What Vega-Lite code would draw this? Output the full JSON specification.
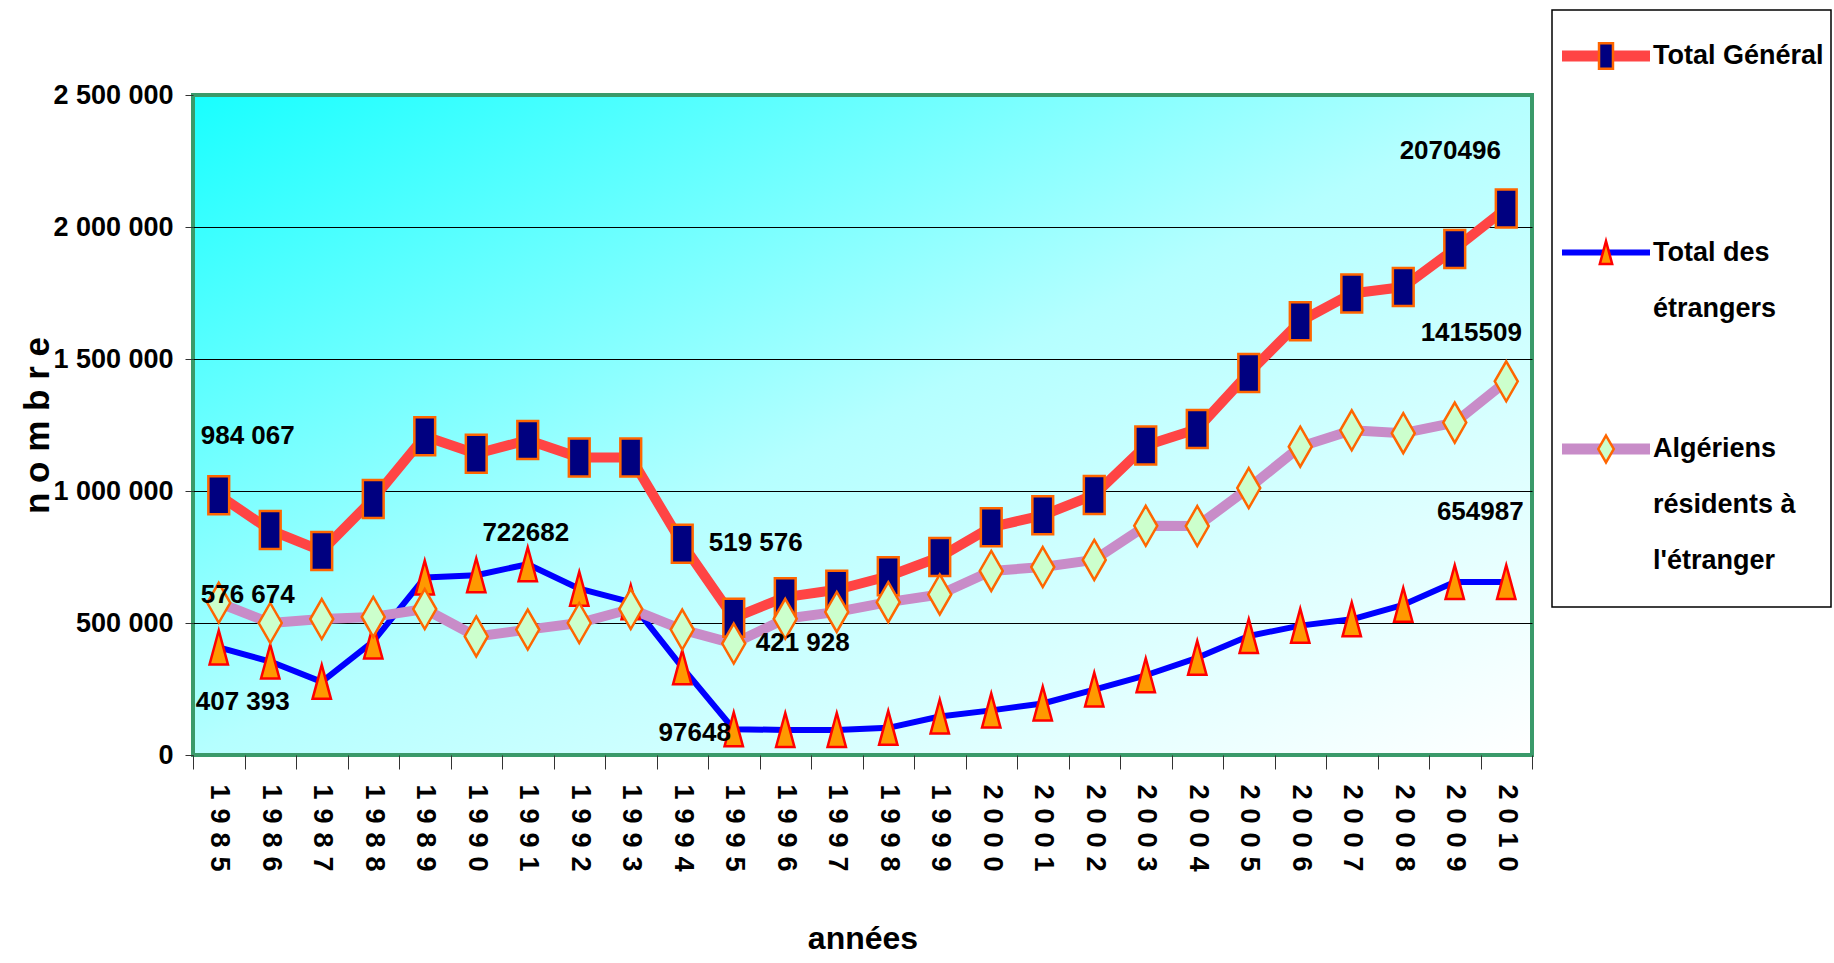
{
  "$schema": "https://vega.github.io/schema/vega-lite/v6.json",
  "background": "white",
  "padding": {"left": 18, "top": 9, "right": 0, "bottom": 0},
  "spacing": 16,
  "datasets": {
    "donnees": [
      {"annee": "1985", "serie": "Total Général", "valeur": 984067, "etiquette": "984 067"},
      {"annee": "1986", "serie": "Total Général", "valeur": 852000},
      {"annee": "1987", "serie": "Total Général", "valeur": 773000},
      {"annee": "1988", "serie": "Total Général", "valeur": 970000},
      {"annee": "1989", "serie": "Total Général", "valeur": 1207000},
      {"annee": "1990", "serie": "Total Général", "valeur": 1141000},
      {"annee": "1991", "serie": "Total Général", "valeur": 1193000},
      {"annee": "1992", "serie": "Total Général", "valeur": 1127000},
      {"annee": "1993", "serie": "Total Général", "valeur": 1127000},
      {"annee": "1994", "serie": "Total Général", "valeur": 800000},
      {"annee": "1995", "serie": "Total Général", "valeur": 519576, "etiquette": "519 576"},
      {"annee": "1996", "serie": "Total Général", "valeur": 598000},
      {"annee": "1997", "serie": "Total Général", "valeur": 626000},
      {"annee": "1998", "serie": "Total Général", "valeur": 677000},
      {"annee": "1999", "serie": "Total Général", "valeur": 750000},
      {"annee": "2000", "serie": "Total Général", "valeur": 863000},
      {"annee": "2001", "serie": "Total Général", "valeur": 908000},
      {"annee": "2002", "serie": "Total Général", "valeur": 985000},
      {"annee": "2003", "serie": "Total Général", "valeur": 1172000},
      {"annee": "2004", "serie": "Total Général", "valeur": 1235000},
      {"annee": "2005", "serie": "Total Général", "valeur": 1447000},
      {"annee": "2006", "serie": "Total Général", "valeur": 1643000},
      {"annee": "2007", "serie": "Total Général", "valeur": 1748000},
      {"annee": "2008", "serie": "Total Général", "valeur": 1773000},
      {"annee": "2009", "serie": "Total Général", "valeur": 1917000},
      {"annee": "2010", "serie": "Total Général", "valeur": 2070496, "etiquette": "2070496"},
      {"annee": "1985", "serie": "Total des étrangers", "valeur": 407393, "etiquette": "407 393"},
      {"annee": "1986", "serie": "Total des étrangers", "valeur": 354000},
      {"annee": "1987", "serie": "Total des étrangers", "valeur": 277000},
      {"annee": "1988", "serie": "Total des étrangers", "valeur": 430000},
      {"annee": "1989", "serie": "Total des étrangers", "valeur": 672000},
      {"annee": "1990", "serie": "Total des étrangers", "valeur": 681000},
      {"annee": "1991", "serie": "Total des étrangers", "valeur": 722682, "etiquette": "722682"},
      {"annee": "1992", "serie": "Total des étrangers", "valeur": 630000},
      {"annee": "1993", "serie": "Total des étrangers", "valeur": 579000},
      {"annee": "1994", "serie": "Total des étrangers", "valeur": 332000},
      {"annee": "1995", "serie": "Total des étrangers", "valeur": 97648, "etiquette": "97648"},
      {"annee": "1996", "serie": "Total des étrangers", "valeur": 95000},
      {"annee": "1997", "serie": "Total des étrangers", "valeur": 95000},
      {"annee": "1998", "serie": "Total des étrangers", "valeur": 103000},
      {"annee": "1999", "serie": "Total des étrangers", "valeur": 146000},
      {"annee": "2000", "serie": "Total des étrangers", "valeur": 169000},
      {"annee": "2001", "serie": "Total des étrangers", "valeur": 195000},
      {"annee": "2002", "serie": "Total des étrangers", "valeur": 248000},
      {"annee": "2003", "serie": "Total des étrangers", "valeur": 302000},
      {"annee": "2004", "serie": "Total des étrangers", "valeur": 368000},
      {"annee": "2005", "serie": "Total des étrangers", "valeur": 451000},
      {"annee": "2006", "serie": "Total des étrangers", "valeur": 490000},
      {"annee": "2007", "serie": "Total des étrangers", "valeur": 514000},
      {"annee": "2008", "serie": "Total des étrangers", "valeur": 569000},
      {"annee": "2009", "serie": "Total des étrangers", "valeur": 655000},
      {"annee": "2010", "serie": "Total des étrangers", "valeur": 654987, "etiquette": "654987"},
      {"annee": "1985", "serie": "Algériens résidents à l'étranger", "valeur": 576674, "etiquette": "576 674"},
      {"annee": "1986", "serie": "Algériens résidents à l'étranger", "valeur": 500000},
      {"annee": "1987", "serie": "Algériens résidents à l'étranger", "valeur": 515000},
      {"annee": "1988", "serie": "Algériens résidents à l'étranger", "valeur": 523000},
      {"annee": "1989", "serie": "Algériens résidents à l'étranger", "valeur": 553000},
      {"annee": "1990", "serie": "Algériens résidents à l'étranger", "valeur": 449000},
      {"annee": "1991", "serie": "Algériens résidents à l'étranger", "valeur": 475000},
      {"annee": "1992", "serie": "Algériens résidents à l'étranger", "valeur": 500000},
      {"annee": "1993", "serie": "Algériens résidents à l'étranger", "valeur": 553000},
      {"annee": "1994", "serie": "Algériens résidents à l'étranger", "valeur": 475000},
      {"annee": "1995", "serie": "Algériens résidents à l'étranger", "valeur": 421928, "etiquette": "421 928"},
      {"annee": "1996", "serie": "Algériens résidents à l'étranger", "valeur": 516000},
      {"annee": "1997", "serie": "Algériens résidents à l'étranger", "valeur": 542000},
      {"annee": "1998", "serie": "Algériens résidents à l'étranger", "valeur": 579000},
      {"annee": "1999", "serie": "Algériens résidents à l'étranger", "valeur": 608000},
      {"annee": "2000", "serie": "Algériens résidents à l'étranger", "valeur": 697000},
      {"annee": "2001", "serie": "Algériens résidents à l'étranger", "valeur": 712000},
      {"annee": "2002", "serie": "Algériens résidents à l'étranger", "valeur": 739000},
      {"annee": "2003", "serie": "Algériens résidents à l'étranger", "valeur": 868000},
      {"annee": "2004", "serie": "Algériens résidents à l'étranger", "valeur": 867000},
      {"annee": "2005", "serie": "Algériens résidents à l'étranger", "valeur": 1011000},
      {"annee": "2006", "serie": "Algériens résidents à l'étranger", "valeur": 1168000},
      {"annee": "2007", "serie": "Algériens résidents à l'étranger", "valeur": 1230000},
      {"annee": "2008", "serie": "Algériens résidents à l'étranger", "valeur": 1219000},
      {"annee": "2009", "serie": "Algériens résidents à l'étranger", "valeur": 1259000},
      {"annee": "2010", "serie": "Algériens résidents à l'étranger", "valeur": 1415509, "etiquette": "1415509"}
    ],
    "legende": [
      {"serie": "Total Général", "libelle": "Total Général"},
      {"serie": "Total des étrangers", "libelle": "Total des\nétrangers"},
      {"serie": "Algériens résidents à l'étranger", "libelle": "Algériens\nrésidents à\nl'étranger"}
    ]
  },
  "hconcat": [
    {
      "spacing": 0,
      "vconcat": [
        {
          "width": 10,
          "height": 69,
          "data": {"values": [{}]},
          "view": {"stroke": null, "fill": null},
          "mark": {"type": "point", "opacity": 0}
        },
        {
          "width": 1339,
          "height": 660,
          "data": {"name": "donnees"},
          "view": {
            "fill": {"gradient": "linear", "x1": 0, "y1": 0, "x2": 1, "y2": 1,
              "stops": [{"offset": 0, "color": "#18FFFF"}, {"offset": 0.5, "color": "#B5FFFF"}, {"offset": 1, "color": "#FFFFFF"}]},
            "stroke": "#3A9A6A",
            "strokeWidth": 4
          },
          "encoding": {
            "x": {
              "field": "annee", "type": "ordinal", "bandPosition": 0.5,
              "scale": {"type": "band", "paddingInner": 0, "paddingOuter": 0},
              "title": "années",
              "axis": {
                "tickBand": "extent", "labelAngle": 90, "labelAlign": "left", "labelBaseline": "middle",
                "labelFontSize": 27,
                "labelExpr": "join(split(datum.label, ''), '\u2004')",
                "tickSize": 14, "labelPadding": 15, "grid": false,
                "titleFontSize": 32, "titlePadding": 52
              }
            },
            "y": {
              "field": "valeur", "type": "quantitative",
              "scale": {"domain": [0, 2500000], "nice": false, "zero": true},
              "title": "n o m b r e",
              "axis": {
                "values": [0, 500000, 1000000, 1500000, 2000000, 2500000],
                "labelExpr": "replace(format(datum.value, ','), regexp(',', 'g'), ' ')",
                "labelFontSize": 27, "tickSize": 8, "labelPadding": 12,
                "grid": true, "gridColor": "black", "gridWidth": 1,
                "gridOpacity": {"condition": {"test": "datum.value == 0 || datum.value == 2500000", "value": 0}, "value": 1},
                "titleFontSize": 35, "titlePadding": -3
              }
            }
          },
          "layer": [
            {
              "mark": {"type": "line", "strokeJoin": "round"},
              "encoding": {
                "stroke": {"field": "serie", "type": "nominal", "legend": null,
                  "scale": {"domain": ["Total Général", "Total des étrangers", "Algériens résidents à l'étranger"], "range": ["#FF4444", "#0000FF", "#C88CC8"]}},
                "strokeWidth": {"condition": {"test": "datum.serie == 'Total des étrangers'", "value": 6}, "value": 10}
              }
            },
            {
              "mark": {"type": "point", "filled": true, "size": 1600, "strokeWidth": 2.5, "opacity": 1},
              "encoding": {
                "shape": {"field": "serie", "type": "nominal", "legend": null,
                  "scale": {"domain": ["Total Général", "Total des étrangers", "Algériens résidents à l'étranger"],
                    "range": ["M-0.52,-0.95H0.52V0.95H-0.52Z", "M0,-0.85L0.46,0.85L-0.46,0.85Z", "M0,-1L0.575,0L0,1L-0.575,0Z"]}},
                "fill": {"field": "serie", "type": "nominal", "legend": null,
                  "scale": {"domain": ["Total Général", "Total des étrangers", "Algériens résidents à l'étranger"], "range": ["#000080", "#FF9900", "#CCFFCC"]}},
                "stroke": {"condition": {"test": "datum.serie == 'Total des étrangers'", "value": "#FF0000"}, "value": "#FF6600"}
              }
            },
            {"transform": [{"filter": {"and": [{"field": "annee", "equal": "1985"}, {"field": "serie", "equal": "Total Général"}]}}],
             "mark": {"type": "text", "dx": 29, "dy": -59}, "encoding": {"text": {"field": "etiquette"}}},
            {"transform": [{"filter": {"and": [{"field": "annee", "equal": "1985"}, {"field": "serie", "equal": "Algériens résidents à l'étranger"}]}}],
             "mark": {"type": "text", "dx": 29, "dy": -8}, "encoding": {"text": {"field": "etiquette"}}},
            {"transform": [{"filter": {"and": [{"field": "annee", "equal": "1985"}, {"field": "serie", "equal": "Total des étrangers"}]}}],
             "mark": {"type": "text", "dx": 24, "dy": 55}, "encoding": {"text": {"field": "etiquette"}}},
            {"transform": [{"filter": {"and": [{"field": "annee", "equal": "1991"}, {"field": "serie", "equal": "Total des étrangers"}]}}],
             "mark": {"type": "text", "dx": -2, "dy": -31}, "encoding": {"text": {"field": "etiquette"}}},
            {"transform": [{"filter": {"and": [{"field": "annee", "equal": "1995"}, {"field": "serie", "equal": "Total Général"}]}}],
             "mark": {"type": "text", "dx": 22, "dy": -75}, "encoding": {"text": {"field": "etiquette"}}},
            {"transform": [{"filter": {"and": [{"field": "annee", "equal": "1995"}, {"field": "serie", "equal": "Algériens résidents à l'étranger"}]}}],
             "mark": {"type": "text", "dx": 69, "dy": -1}, "encoding": {"text": {"field": "etiquette"}}},
            {"transform": [{"filter": {"and": [{"field": "annee", "equal": "1995"}, {"field": "serie", "equal": "Total des étrangers"}]}}],
             "mark": {"type": "text", "dx": -39, "dy": 4}, "encoding": {"text": {"field": "etiquette"}}},
            {"transform": [{"filter": {"and": [{"field": "annee", "equal": "2010"}, {"field": "serie", "equal": "Total Général"}]}}],
             "mark": {"type": "text", "dx": -56, "dy": -57}, "encoding": {"text": {"field": "etiquette"}}},
            {"transform": [{"filter": {"and": [{"field": "annee", "equal": "2010"}, {"field": "serie", "equal": "Algériens résidents à l'étranger"}]}}],
             "mark": {"type": "text", "dx": -35, "dy": -48}, "encoding": {"text": {"field": "etiquette"}}},
            {"transform": [{"filter": {"and": [{"field": "annee", "equal": "2010"}, {"field": "serie", "equal": "Total des étrangers"}]}}],
             "mark": {"type": "text", "dx": -26, "dy": -70}, "encoding": {"text": {"field": "etiquette"}}}
          ]
        }
      ]
    },
    {
      "width": 279,
      "height": 597,
      "data": {"name": "legende"},
      "view": {"fill": "white", "stroke": "black", "strokeWidth": 1.5},
      "encoding": {
        "y": {"field": "serie", "type": "nominal", "axis": null,
          "scale": {"type": "point", "padding": 0, "domain": ["Total Général", "Total des étrangers", "Algériens résidents à l'étranger"], "range": [46, 439]}}
      },
      "layer": [
        {
          "mark": {"type": "rule", "strokeCap": "butt"},
          "encoding": {
            "x": {"datum": "debut", "type": "nominal", "axis": null,
              "scale": {"type": "point", "padding": 0, "domain": ["debut", "centre", "fin"], "range": [10, 98]}},
            "x2": {"datum": "fin"},
            "stroke": {"field": "serie", "type": "nominal", "legend": null,
              "scale": {"domain": ["Total Général", "Total des étrangers", "Algériens résidents à l'étranger"], "range": ["#FF4444", "#0000FF", "#C88CC8"]}},
            "strokeWidth": {"condition": {"test": "datum.serie == 'Total des étrangers'", "value": 6}, "value": 11}
          }
        },
        {
          "mark": {"type": "point", "filled": true, "size": 720, "strokeWidth": 2.5, "opacity": 1},
          "encoding": {
            "x": {"datum": "centre", "type": "nominal"},
            "shape": {"field": "serie", "type": "nominal", "legend": null,
              "scale": {"domain": ["Total Général", "Total des étrangers", "Algériens résidents à l'étranger"],
                "range": ["M-0.52,-0.95H0.52V0.95H-0.52Z", "M0,-0.85L0.46,0.85L-0.46,0.85Z", "M0,-1L0.575,0L0,1L-0.575,0Z"]}},
            "fill": {"field": "serie", "type": "nominal", "legend": null,
              "scale": {"domain": ["Total Général", "Total des étrangers", "Algériens résidents à l'étranger"], "range": ["#000080", "#FF9900", "#CCFFCC"]}},
            "stroke": {"condition": {"test": "datum.serie == 'Total des étrangers'", "value": "#FF0000"}, "value": "#FF6600"}
          }
        },
        {
          "mark": {"type": "text", "align": "left", "baseline": "middle", "dx": 3, "lineBreak": "\n", "lineHeight": 56, "fontSize": 27},
          "encoding": {
            "x": {"datum": "fin", "type": "nominal"},
            "text": {"field": "libelle"}
          }
        }
      ]
    }
  ],
  "config": {
    "font": "Liberation Sans, Arial, sans-serif",
    "axis": {"labelFontWeight": "bold", "labelColor": "black", "titleFontWeight": "bold", "titleColor": "black", "domain": false, "tickColor": "#333333", "tickWidth": 1},
    "text": {"font": "Liberation Sans, Arial, sans-serif", "fontSize": 26, "fontWeight": "bold", "fill": "black", "align": "center", "baseline": "middle"}
  }
}
